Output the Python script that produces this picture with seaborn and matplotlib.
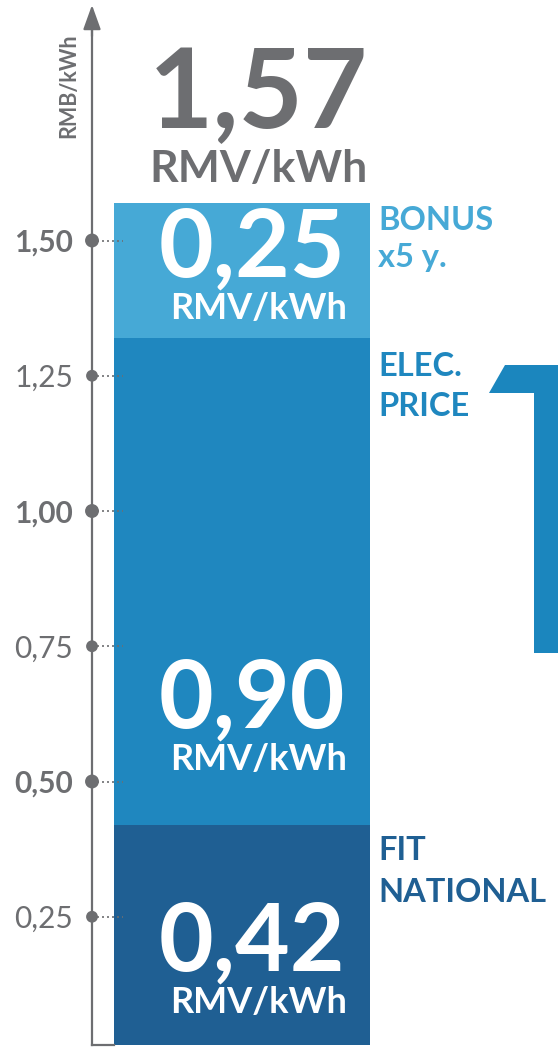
import numpy as np
import pandas as pd
import matplotlib
matplotlib.use("Agg")
import matplotlib.pyplot as plt
from matplotlib.patches import Polygon
import seaborn as sns

# ---------------- data ----------------
segments = ["FIT NATIONAL", "ELEC. PRICE", "BONUS x5 y."]
seg_lines = [["FIT", "NATIONAL"], ["ELEC.", "PRICE"], ["BONUS", "x5 y."]]
values = [0.42, 0.90, 0.25]
value_labels = ["0,42", "0,90", "0,25"]
unit_label = "RMV/kWh"
total_label = "1,57"
colors = ["#1f5f93", "#1f87bf", "#46a9d6"]
tick_values = [0.25, 0.50, 0.75, 1.00, 1.25, 1.50]
tick_labels = ["0,25", "0,50", "0,75", "1,00", "1,25", "1,50"]
tick_bold = [False, True, False, True, False, True]
axis_label = "RMB/kWh"
category = "tariff"

GRAY = "#6d6e71"
W, H = 558, 1049
PX = 0.72  # points per pixel at dpi 100
SCALE = 541.0  # pixels per unit
ZERO_BELOW = 7  # data zero sits this many px below the axes bottom

sns.set_theme(style="white")
plt.rcParams["font.family"] = ["Lato", "DejaVu Sans"]

fig = plt.figure(figsize=(W / 100, H / 100), dpi=100)
ax = fig.add_axes([92 / W, 4 / H, 466 / W, 1040 / H])

cum = np.cumsum(values)
df = pd.DataFrame({"cat": [category] * len(values), "top": cum, "seg": segments})

# stacked bars: draw cumulative totals from the largest down
for i in reversed(range(len(values))):
    sns.barplot(data=df.iloc[[i]], x="cat", y="top", color=colors[i],
                saturation=1, width=0.8, errorbar=None, linewidth=0, ax=ax)

x0 = -0.4 - 22 / 320
ylo = ZERO_BELOW / SCALE
yhi = ylo + 1040 / SCALE
ax.set_xlim(x0, 0.4 + 188 / 320)
ax.set_ylim(ylo, yhi)
ax.set_xlabel("")
ax.set_ylabel("")
ax.set_xticks([])

# axes styling
for s in ["top", "right"]:
    ax.spines[s].set_visible(False)
ax.spines["left"].set_color(GRAY)
ax.spines["left"].set_linewidth(1.6)
ax.spines["left"].set_bounds(ylo, yhi - 16 / SCALE)
ax.spines["bottom"].set_color(GRAY)
ax.spines["bottom"].set_linewidth(1.6)
ax.spines["bottom"].set_bounds(x0, -0.4)

ax.annotate("", xy=(0, 1.0), xycoords="axes fraction",
            xytext=(0, 0.97), textcoords="axes fraction",
            arrowprops=dict(arrowstyle="-|>,head_length=0.75,head_width=0.27",
                            color=GRAY, lw=1.6, shrinkA=0, shrinkB=0,
                            mutation_scale=20))

ax.set_yticks(tick_values)
ax.set_yticklabels(tick_labels)
ax.tick_params(axis="y", length=0, pad=19 * PX, labelsize=21.5, labelcolor=GRAY)
for lab, b in zip(ax.get_yticklabels(), tick_bold):
    lab.set_fontweight("bold" if b else "normal")

# dotted guides and dots
ax.hlines(tick_values, x0, -0.4 + 9 / 320, colors=GRAY, linestyles=(0, (1.2, 1.8)),
          linewidth=1.2, zorder=5)
sizes = [(10 if b else 8.5) ** 2 for b in tick_bold]
ax.scatter([x0] * len(tick_values), tick_values, s=sizes, color=GRAY,
           zorder=6, clip_on=False, linewidths=0)

ax.text((69 - 92) / 466, (1045 - 86) / 1040, axis_label, transform=ax.transAxes,
        rotation=90, ha="center", va="center", fontsize=15.5, fontweight="bold",
        color=GRAY)

# value labels inside segments
bottoms = np.concatenate([[0], cum[:-1]])
unit_off = [39, 55, 19]
for i in range(len(values)):
    ax.annotate(unit_label, xy=(0.4, bottoms[i]), xytext=(-23 * PX, unit_off[i] * PX),
                textcoords="offset points", ha="right", va="baseline",
                fontsize=26, fontweight="bold", color="white",
                annotation_clip=False)
    ax.annotate(value_labels[i], xy=(0.4, bottoms[i]),
                xytext=(-25 * PX, (unit_off[i] + 42) * PX),
                textcoords="offset points", ha="right", va="baseline",
                fontsize=68, fontweight="bold", color="white",
                annotation_clip=False)

# total label above bar
ax.annotate(unit_label, xy=(0.4, cum[-1]), xytext=(-2 * PX, 21 * PX),
            textcoords="offset points", ha="right", va="baseline",
            fontsize=32, fontweight="bold", color=GRAY, annotation_clip=False)
ax.annotate(total_label, xy=(0.4, cum[-1]), xytext=(-2 * PX, 75 * PX),
            textcoords="offset points", ha="right", va="baseline",
            fontsize=80, fontweight="bold", color=GRAY, annotation_clip=False)

# segment names to the right
name_off = [[35, 77], [38, 78], [27, 64]]
for i in range(len(values)):
    for j, line in enumerate(seg_lines[i]):
        ax.annotate(line, xy=(0.4, cum[i]), xytext=(8 * PX, -name_off[i][j] * PX),
                    textcoords="offset points", ha="left", va="baseline",
                    fontsize=23.5, fontweight="bold", color=colors[i],
                    annotation_clip=False)

# decorative large "1" on the right edge
verts = [(489, 393), (505, 365), (560, 365), (560, 653), (534, 653), (534, 393)]
poly = Polygon([(x / W, 1 - y / H) for x, y in verts], closed=True,
               transform=fig.transFigure, facecolor="#1b86be", edgecolor="none")
fig.patches.append(poly)

fig.savefig("out.png", dpi=100)
